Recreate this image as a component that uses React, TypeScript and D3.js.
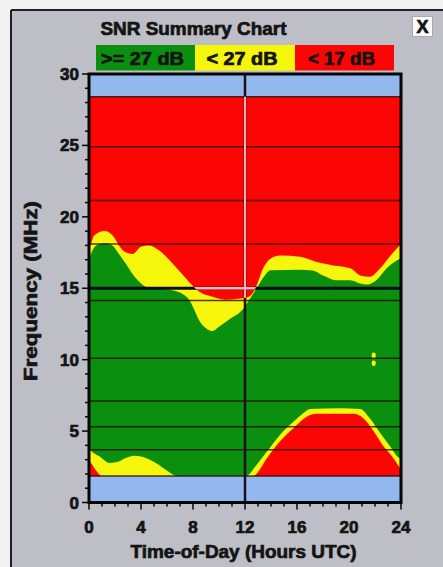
import React from 'react';
import * as d3 from 'd3';

// ---- data ----
const xTickLabels = [0, 4, 8, 12, 16, 20, 24];
const yTickLabels = [0, 5, 10, 15, 20, 25, 30];
const bandLines = [1.85, 3.7, 5.3, 7.1, 10.1, 14.15, 18.1, 21.15, 24.9, 28.4];
const coverageLow = 1.85;
const coverageHigh = 28.4;
const cursorHour = 12;
const cursorMHz = 15;
const legendLabels = ['>= 27 dB', '< 27 dB', '< 17 dB'];

// top of the green (>=27 dB) region, upper part [hour, MHz]
const upperGreenEdge: [number, number][] = [
  [0, 17.0], [0.15, 17.4], [0.55, 18.0], [1.2, 18.15], [1.8, 18.0], [2.3, 17.4], [2.85, 16.7],
  [3.35, 16.0], [3.86, 15.45], [4.37, 15.1], [5.4, 14.98], [6.4, 14.86], [7.2, 14.6], [7.7, 14.2],
  [8.1, 13.5], [8.45, 12.8], [9.0, 12.2], [9.5, 12.0], [10.0, 12.3], [10.75, 12.8], [11.8, 13.5],
  [12.4, 14.3], [12.9, 15.0], [13.45, 15.8], [13.95, 16.26], [16.25, 16.3], [17.2, 16.25],
  [18.0, 15.9], [19.1, 15.56], [20.1, 15.56], [20.86, 15.33], [21.4, 15.26], [22.1, 15.56],
  [22.9, 16.4], [23.7, 16.96], [24, 17.1],
];
// top of the yellow (<27 dB) region, upper part
const upperRedEdge: [number, number][] = [
  [0, 17.8], [0.15, 18.1], [0.4, 18.7], [1.2, 19.0], [1.9, 18.6], [2.3, 18.0], [2.85, 17.5],
  [3.35, 17.4], [4.0, 17.9], [4.6, 18.0], [5.4, 17.65], [6.2, 16.96], [6.9, 16.26], [7.45, 15.7],
  [7.95, 15.2], [8.5, 14.75], [9.5, 14.4], [10.5, 14.2], [11.8, 14.3], [12.3, 14.4], [12.8, 15.0],
  [13.45, 16.5], [13.95, 17.07], [14.7, 17.3], [16.25, 17.2], [17.5, 16.84], [18.8, 16.6],
  [20.1, 16.4], [20.86, 15.9], [21.6, 15.8], [22.4, 16.4], [23.2, 17.3], [23.8, 17.9], [24, 18.1],
];
// lower yellow / red regions
const lowerLeftYellow: [number, number][] = [
  [0, 3.8], [0.15, 3.63], [0.8, 3.23], [1.56, 2.77], [2.07, 2.81], [2.84, 3.12], [3.47, 3.28],
  [4.37, 3.12], [5.14, 2.77], [5.9, 2.3], [6.67, 1.88], [6.8, 1.85],
];
const lowerLeftRed: [number, number][] = [
  [0, 2.9], [0.15, 2.77], [0.5, 2.3], [0.92, 1.88], [1.0, 1.85],
];
const lowerRightYellow: [number, number][] = [
  [12.1, 1.85], [12.17, 1.88], [12.9, 2.65], [13.7, 3.58], [14.7, 4.75], [15.75, 5.67],
  [16.5, 6.26], [17.0, 6.54], [19.3, 6.6], [20.86, 6.54], [21.6, 5.9], [22.4, 4.86],
  [23.16, 3.93], [23.7, 3.23], [24, 3.0],
];
const lowerRightRed: [number, number][] = [
  [12.6, 1.85], [12.7, 1.88], [13.7, 3.12], [14.7, 4.28], [15.75, 5.21], [16.77, 6.02],
  [17.5, 6.21], [20.35, 6.21], [21.1, 5.9], [21.9, 4.98], [22.65, 3.93], [23.4, 3.12],
  [23.85, 2.5], [24, 2.3],
];
// small isolated yellow spots [hour, MHz low, MHz high]
const yellowSpots: [number, number, number][] = [
  [21.9, 10.05, 10.5],
  [21.9, 9.55, 9.95],
];

const W = 443;
const H = 567;
const COLORS = {
  green: '#0a900e',
  yellow: '#f6f60c',
  red: '#fc0505',
  blue: '#92b8ee',
  panel: '#bebec6',
};
const FONT = '"Liberation Sans", Arial, sans-serif';
const INK = '#141414';

export default function App() {
  const x = d3.scaleLinear().domain([0, 24]).range([89, 401]);
  const y = d3.scaleLinear().domain([0, 30]).range([502.5, 74]);

  const areaFromTop = d3
    .area<[number, number]>()
    .x((d) => x(d[0]))
    .y0(() => y(coverageHigh))
    .y1((d) => y(d[1]))
    .curve(d3.curveMonotoneX);
  const areaFromBottom = d3
    .area<[number, number]>()
    .x((d) => x(d[0]))
    .y0(() => y(coverageLow))
    .y1((d) => y(d[1]))
    .curve(d3.curveMonotoneX);

  const upperYellowPath = areaFromTop(upperGreenEdge) || '';
  const upperRedPath = areaFromTop(upperRedEdge) || '';
  const llYellowPath = areaFromBottom(lowerLeftYellow) || '';
  const llRedPath = areaFromBottom(lowerLeftRed) || '';
  const lrYellowPath = areaFromBottom(lowerRightYellow) || '';
  const lrRedPath = areaFromBottom(lowerRightRed) || '';

  const minorX = d3.range(0, 25, 1);
  const minorY = d3.range(0, 31, 1);

  const legendX = [96, 195, 295, 394];
  const legendFill = [COLORS.green, COLORS.yellow, COLORS.red];
  const legendTextLen = [83, 71, 67];

  const heavy = { stroke: INK, strokeWidth: 0.7, fill: INK, fontWeight: 'bold' as const };

  const crossV = (color: string, w: number, clip?: string) => (
    <line
      x1={x(cursorHour)}
      x2={x(cursorHour)}
      y1={y(30)}
      y2={y(0)}
      stroke={color}
      strokeWidth={w}
      clipPath={clip}
    />
  );
  const crossH = (color: string, w: number, clip?: string) => (
    <line
      x1={x(0)}
      x2={x(24)}
      y1={y(cursorMHz)}
      y2={y(cursorMHz)}
      stroke={color}
      strokeWidth={w}
      clipPath={clip}
    />
  );

  return (
    <svg
      width={W}
      height={H}
      style={{ position: 'absolute', left: 0, top: 0 }}
      fontFamily={FONT}
    >
      <defs>
        <clipPath id="plotClip">
          <rect x={x(0)} y={y(30)} width={x(24) - x(0)} height={y(0) - y(30)} />
        </clipPath>
        <clipPath id="redClip">
          <path d={upperRedPath} />
          <path d={llRedPath} />
          <path d={lrRedPath} />
        </clipPath>
      </defs>
      <rect x={0} y={0} width={W} height={H} fill="#f2f2f2" />
      <rect x={11} y={10} width={W - 11} height={H - 10} fill={COLORS.panel} />
      <line x1={11} x2={11} y1={10} y2={H} stroke="#222" strokeWidth={2} />
      <line x1={11} x2={W} y1={10} y2={10} stroke="#222" strokeWidth={2} />

      {/* title */}
      <text
        x={193.5}
        y={35}
        textAnchor="middle"
        fontSize={18}
        textLength={186}
        lengthAdjust="spacingAndGlyphs"
        {...heavy}
      >
        SNR Summary Chart
      </text>
      {/* close button */}
      <rect x={412.5} y={16.5} width={20} height={20} fill="#fafafa" stroke="#aaa" />
      <text x={422.5} y={33} textAnchor="middle" fontSize={18} {...heavy}>
        X
      </text>

      {/* legend */}
      {legendLabels.map((lab, i) => (
        <g key={lab}>
          <rect
            x={legendX[i]}
            y={45}
            width={legendX[i + 1] - legendX[i]}
            height={25.5}
            fill={legendFill[i]}
          />
          <text
            x={(legendX[i] + legendX[i + 1]) / 2 - 3}
            y={64.5}
            textAnchor="middle"
            fontSize={18}
            textLength={legendTextLen[i]}
            lengthAdjust="spacingAndGlyphs"
            {...heavy}
          >
            {lab}
          </text>
        </g>
      ))}

      {/* plot */}
      <g clipPath="url(#plotClip)">
        <rect x={x(0)} y={y(30)} width={x(24) - x(0)} height={y(0) - y(30)} fill={COLORS.blue} />
        <rect
          x={x(0)}
          y={y(coverageHigh)}
          width={x(24) - x(0)}
          height={y(coverageLow) - y(coverageHigh)}
          fill={COLORS.green}
        />
        <path d={upperYellowPath} fill={COLORS.yellow} />
        <path d={upperRedPath} fill={COLORS.red} />
        <path d={llYellowPath} fill={COLORS.yellow} />
        <path d={llRedPath} fill={COLORS.red} />
        <path d={lrYellowPath} fill={COLORS.yellow} />
        <path d={lrRedPath} fill={COLORS.red} />
        {yellowSpots.map((s, i) => (
          <rect
            key={i}
            x={x(s[0]) - 2}
            y={y(s[2])}
            width={4}
            height={y(s[1]) - y(s[2])}
            rx={2}
            fill={COLORS.yellow}
          />
        ))}
        {bandLines.map((b) => (
          <line
            key={b}
            x1={x(0)}
            x2={x(24)}
            y1={y(b)}
            y2={y(b)}
            stroke="#2a0505"
            strokeOpacity={0.8}
            strokeWidth={1.5}
          />
        ))}
        {crossV('#1c0f1e', 2.5)}
        {crossH('#0c0c20', 3)}
        <g clipPath="url(#redClip)">
          {crossV('#f4b4b8', 2)}
          {crossH('#f4b4b8', 2.5)}
        </g>
      </g>

      {/* frame */}
      <rect
        x={x(0)}
        y={y(30)}
        width={x(24) - x(0)}
        height={y(0) - y(30)}
        fill="none"
        stroke="#050505"
        strokeWidth={3}
      />

      {/* y ticks */}
      {minorY.map((v) => (
        <line
          key={'yt' + v}
          x1={x(0) - (v % 5 === 0 ? 7 : 4)}
          x2={x(0)}
          y1={y(v)}
          y2={y(v)}
          stroke="#050505"
          strokeWidth={1.5}
        />
      ))}
      {yTickLabels.map((v) => (
        <text
          key={'yl' + v}
          x={79}
          y={y(v) + 6}
          textAnchor="end"
          fontSize={17}
          {...heavy}
        >
          {v}
        </text>
      ))}

      {/* x ticks */}
      {minorX.map((v) => (
        <line
          key={'xt' + v}
          x1={x(v)}
          x2={x(v)}
          y1={y(0)}
          y2={y(0) + (v % 4 === 0 ? 7 : 4)}
          stroke="#050505"
          strokeWidth={1.5}
        />
      ))}
      {xTickLabels.map((v) => (
        <text key={'xl' + v} x={x(v)} y={533} textAnchor="middle" fontSize={17} {...heavy}>
          {v}
        </text>
      ))}

      {/* axis titles */}
      <text
        x={243.5}
        y={558}
        textAnchor="middle"
        fontSize={18}
        textLength={226}
        lengthAdjust="spacingAndGlyphs"
        {...heavy}
      >
        Time-of-Day (Hours UTC)
      </text>
      <text
        transform={`translate(37, 291) rotate(-90)`}
        textAnchor="middle"
        fontSize={18}
        textLength={180}
        lengthAdjust="spacingAndGlyphs"
        {...heavy}
      >
        Frequency (MHz)
      </text>
    </svg>
  );
}
